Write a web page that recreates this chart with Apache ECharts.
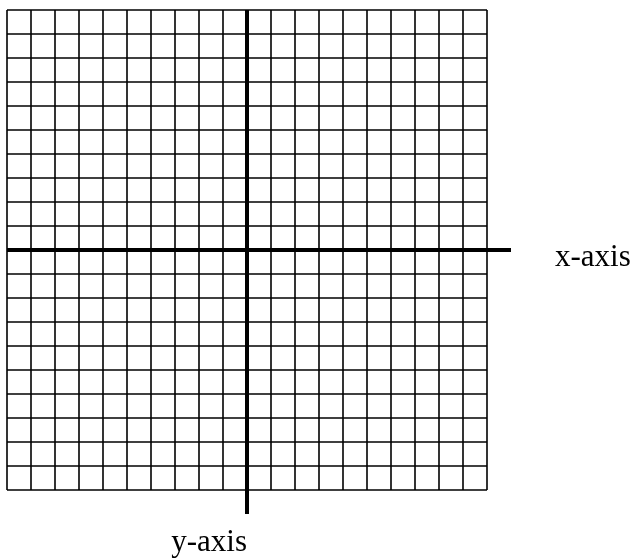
<!DOCTYPE html>
<html>
<head>
<meta charset="utf-8">
<script src="https://cdn.jsdelivr.net/npm/echarts@6/dist/echarts.min.js"></script>
<style>
    html, body { margin: 0; padding: 0; background: #fff; }
    #main { width: 632px; height: 558px; }
</style>
</head>
<body>
<div id="main"></div>
<script>
// grid range, one unit = one cell
const xRange = [-10, 10];
const yRange = [-10, 10];
// the two axes run one cell past the grid (right / bottom)
const xAxisLine = [[-10, 0], [11, 0]];
const yAxisLine = [[0, 10], [0, -11]];
const xName = 'x-axis';
const yName = 'y-axis';

var chart = echarts.init(document.getElementById('main'));
chart.setOption({
    animation: false,
    backgroundColor: '#fff',
    grid: {
        left: 7,
        top: 10,
        width: 480,
        height: 480,
        outerBoundsMode: 'none'
    },
    xAxis: {
        type: 'value',
        min: xRange[0],
        max: xRange[1],
        interval: 1,
        axisLine: { show: false, onZero: true },
        axisTick: { show: false },
        axisLabel: { show: false },
        splitLine: { show: true, lineStyle: { color: '#000', width: 1.6 } },
        name: xName,
        nameLocation: 'end',
        nameGap: 68,
        nameTextStyle: {
            fontFamily: 'Liberation Serif',
            fontSize: 31,
            color: '#000',
            verticalAlign: 'top',
            lineHeight: 16
        }
    },
    yAxis: {
        type: 'value',
        min: yRange[0],
        max: yRange[1],
        interval: 1,
        axisLine: { show: false, onZero: true },
        axisTick: { show: false },
        axisLabel: { show: false },
        splitLine: { show: true, lineStyle: { color: '#000', width: 1.6 } },
        name: yName,
        nameLocation: 'start',
        nameGap: 37,
        nameTextStyle: {
            fontFamily: 'Liberation Serif',
            fontSize: 31,
            color: '#000',
            align: 'right',
            verticalAlign: 'top'
        }
    },
    series: [
        {
            type: 'lines',
            coordinateSystem: 'cartesian2d',
            clip: false,
            silent: true,
            lineStyle: { color: '#000', width: 4, opacity: 1 },
            data: [
                { coords: xAxisLine },
                { coords: yAxisLine }
            ]
        }
    ]
});
</script>
</body>
</html>
